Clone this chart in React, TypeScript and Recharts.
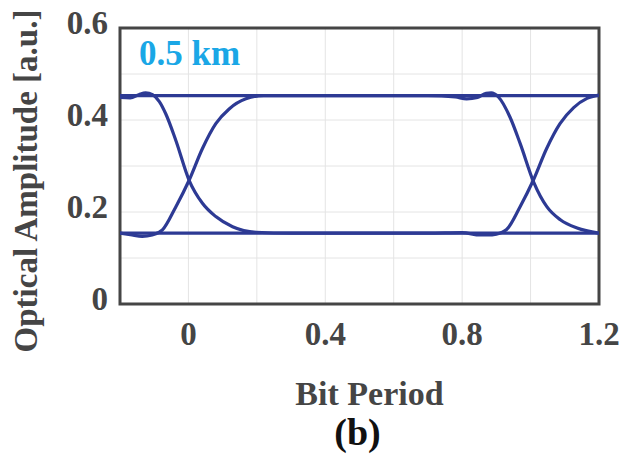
import React from 'react';
import { LineChart, Line, XAxis, YAxis, CartesianGrid, ReferenceArea, Label } from 'recharts';

// ---- data ----
const xTicks = [-0.2, 0, 0.2, 0.4, 0.6, 0.8, 1.0, 1.2];
const xTickLabels = ['', '0', '', '0.4', '', '0.8', '', '1.2'];
const yTicks = [0, 0.1, 0.2, 0.3, 0.4, 0.5, 0.6];
const yTickLabels = ['0', '', '0.2', '', '0.4', '', '0.6'];

const highLevel = [
  { x: -0.2, y: 0.453 },
  { x: 1.2, y: 0.453 },
];
const lowLevel = [
  { x: -0.2, y: 0.154 },
  { x: 1.2, y: 0.154 },
];
// falls at 0, rises at 1
const fallRiseTrace = [
  { x: -0.2, y: 0.449 }, { x: -0.17, y: 0.448 }, { x: -0.145, y: 0.455 }, { x: -0.125, y: 0.459 },
  { x: -0.105, y: 0.455 }, { x: -0.085, y: 0.44 }, { x: -0.066, y: 0.413 }, { x: -0.037, y: 0.356 },
  { x: 0.002, y: 0.269 }, { x: 0.041, y: 0.219 }, { x: 0.08, y: 0.19 }, { x: 0.129, y: 0.168 },
  { x: 0.198, y: 0.156 }, { x: 0.3, y: 0.154 }, { x: 0.7, y: 0.154 }, { x: 0.8, y: 0.155 },
  { x: 0.853, y: 0.15 }, { x: 0.875, y: 0.15 }, { x: 0.9, y: 0.152 }, { x: 0.93, y: 0.162 },
  { x: 0.969, y: 0.211 }, { x: 1.008, y: 0.269 }, { x: 1.047, y: 0.338 }, { x: 1.086, y: 0.392 },
  { x: 1.126, y: 0.427 }, { x: 1.165, y: 0.447 }, { x: 1.2, y: 0.454 },
];
// rises at 0, falls at 1
const riseFallTrace = [
  { x: -0.2, y: 0.154 }, { x: -0.17, y: 0.151 }, { x: -0.135, y: 0.147 }, { x: -0.106, y: 0.15 },
  { x: -0.076, y: 0.161 }, { x: -0.037, y: 0.211 }, { x: 0.002, y: 0.269 }, { x: 0.041, y: 0.338 },
  { x: 0.08, y: 0.392 }, { x: 0.119, y: 0.424 }, { x: 0.168, y: 0.446 }, { x: 0.22, y: 0.453 },
  { x: 0.7, y: 0.453 }, { x: 0.78, y: 0.45 }, { x: 0.813, y: 0.446 }, { x: 0.845, y: 0.449 },
  { x: 0.87, y: 0.458 }, { x: 0.885, y: 0.459 }, { x: 0.906, y: 0.45 }, { x: 0.94, y: 0.406 },
  { x: 0.97, y: 0.348 }, { x: 1.009, y: 0.265 }, { x: 1.048, y: 0.211 }, { x: 1.087, y: 0.183 },
  { x: 1.136, y: 0.165 }, { x: 1.2, y: 0.154 },
];

// ---- style ----
const FONT = '"Liberation Serif", "Times New Roman", serif';
const TEXT_COLOR = '#454545';
const LINE_COLOR = '#2d3a94';
const FS = 33;

const labelFor = (v: number, ticks: number[], labels: string[]) => {
  let best = 0;
  for (let i = 0; i < ticks.length; i++) {
    if (Math.abs(ticks[i] - v) < Math.abs(ticks[best] - v)) best = i;
  }
  return labels[best];
};

const XTick = (props: any) => {
  const { x, y, payload } = props;
  return (
    <text x={x} y={y + 41} textAnchor="middle" fontFamily={FONT} fontWeight="bold" fontSize={FS} fill={TEXT_COLOR}>
      {labelFor(payload.value, xTicks, xTickLabels)}
    </text>
  );
};

const YTick = (props: any) => {
  const { x, y, payload } = props;
  return (
    <text x={x - 12} y={y + 6} textAnchor="end" fontFamily={FONT} fontWeight="bold" fontSize={FS} fill={TEXT_COLOR}>
      {labelFor(payload.value, yTicks, yTickLabels)}
    </text>
  );
};

const XTitle = (props: any) => {
  const vb = props.viewBox || { x: 120, y: 304, width: 479 };
  const cx = vb.x + vb.width / 2;
  return (
    <g>
      <text x={cx + 10} y={vb.y + 101} textAnchor="middle" fontFamily={FONT} fontWeight="bold" fontSize={FS + 1} fill={TEXT_COLOR}>
        Bit Period
      </text>
      <text x={cx - 2} y={vb.y + 141} textAnchor="middle" fontFamily={FONT} fontWeight="bold" fontSize={38} fill="#111">
        (b)
      </text>
    </g>
  );
};

const YTitle = (props: any) => {
  const vb = props.viewBox || { x: 0, y: 28, width: 120, height: 276 };
  const tx = vb.x + 37;
  const ty = vb.y + vb.height / 2 + 15;
  return (
    <text x={tx} y={ty} transform={`rotate(-90, ${tx}, ${ty})`} textAnchor="middle" fontFamily={FONT} fontWeight="bold" fontSize={FS} fill={TEXT_COLOR}>
      Optical Amplitude [a.u.]
    </text>
  );
};

const BoxLabel = (props: any) => {
  const vb = props.viewBox || { x: 120, y: 28 };
  return (
    <text x={vb.x + 19} y={vb.y + 37} fontFamily={FONT} fontWeight="bold" fontSize={35} fill="#1aa7e6">
      0.5 km
    </text>
  );
};

export default function App() {
  return (
    <div style={{ position: 'absolute', left: 0, top: 0, background: '#fff' }}>
      <LineChart width={636} height={461} margin={{ top: 28, right: 37, bottom: 0, left: 0 }}>
        <CartesianGrid stroke="#e4e4e4" strokeWidth={1} />
        <XAxis
          dataKey="x"
          type="number"
          domain={[-0.2, 1.2]}
          ticks={xTicks}
          height={157}
          tickSize={0}
          tickMargin={0}
          tickLine={false}
          axisLine={false}
          tick={<XTick />}
          interval={0}
          allowDataOverflow
        >
          <Label content={<XTitle />} />
        </XAxis>
        <YAxis
          dataKey="y"
          type="number"
          domain={[0, 0.6]}
          ticks={yTicks}
          width={120}
          tickSize={0}
          tickMargin={0}
          tickLine={false}
          axisLine={false}
          tick={<YTick />}
          interval={0}
          allowDataOverflow
        >
          <Label content={<YTitle />} />
        </YAxis>
        <Line data={highLevel} dataKey="y" type="linear" stroke={LINE_COLOR} strokeWidth={3.2} dot={false} activeDot={false} isAnimationActive={false} />
        <Line data={lowLevel} dataKey="y" type="linear" stroke={LINE_COLOR} strokeWidth={3.2} dot={false} activeDot={false} isAnimationActive={false} />
        <Line data={fallRiseTrace} dataKey="y" type="monotone" stroke={LINE_COLOR} strokeWidth={3.2} dot={false} activeDot={false} isAnimationActive={false} />
        <Line data={riseFallTrace} dataKey="y" type="monotone" stroke={LINE_COLOR} strokeWidth={3.2} dot={false} activeDot={false} isAnimationActive={false} />
        <ReferenceArea x1={-0.2} x2={1.2} y1={0} y2={0.6} fill="none" fillOpacity={0} stroke="#454545" strokeWidth={3} ifOverflow="visible">
          <Label content={<BoxLabel />} />
        </ReferenceArea>
      </LineChart>
    </div>
  );
}
